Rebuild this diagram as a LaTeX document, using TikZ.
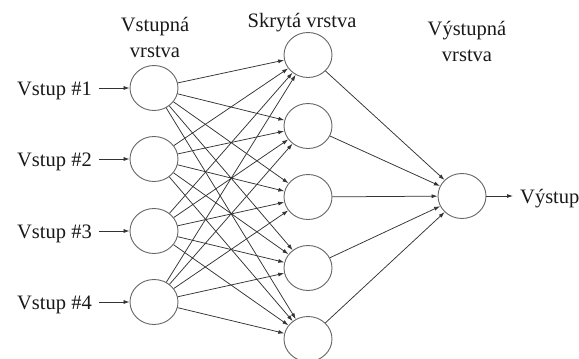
\documentclass[tikz,border=0pt]{standalone}
\usepackage{fontspec}
\setmainfont{Liberation Serif}
\usetikzlibrary{arrows.meta,shapes.geometric}
\begin{document}
\begin{tikzpicture}[x=1pt,y=-1pt,
  neuron/.style={draw=black!60, line width=0.9pt, ellipse,
    minimum width=48pt, minimum height=45pt, inner sep=0pt},
  conn/.style={draw=black!80, line width=0.75pt,
    -{Latex[length=6pt,width=4pt]}},
  lbl/.style={font=\fontsize{20.5}{26}\selectfont, inner sep=0pt, text=black!90}]
\useasboundingbox (0,0) rectangle (579,359);

% layer titles
\node[lbl, align=center, anchor=north] (tin)  at (155,17) {Vstupná\\vrstva};
\node[lbl, anchor=base]                (thid) at (302,27) {Skrytá vrstva};
\node[lbl, align=center, anchor=north] (tout) at (467,21) {Výstupná\\vrstva};

% input layer
\foreach \i/\y in {1/88,2/159,3/231,4/302}{
  \node[neuron] (i\i) at (154,\y) {};
  \node[lbl, anchor=base east] (l\i) at (92,\y+7) {Vstup \#\i};
  \draw[conn] ([xshift=7pt]l\i.east |- i\i) -- (i\i);
}

% hidden layer
\foreach \j/\y in {1/55,2/126,3/197,4/268,5/339}{
  \node[neuron] (h\j) at (308,\y) {};
}

% output layer
\node[neuron] (o) at (462,196) {};
\node[lbl, anchor=base west] (out) at (520,203) {Výstup};
\draw[conn] (o) -- ([xshift=-7pt]out.west |- o);

% connections
\foreach \i in {1,...,4}{
  \foreach \j in {1,...,5}{
    \draw[conn] (i\i) -- (h\j);
  }
}
\foreach \j in {1,...,5}{
  \draw[conn] (h\j) -- (o);
}
\end{tikzpicture}
\end{document}
